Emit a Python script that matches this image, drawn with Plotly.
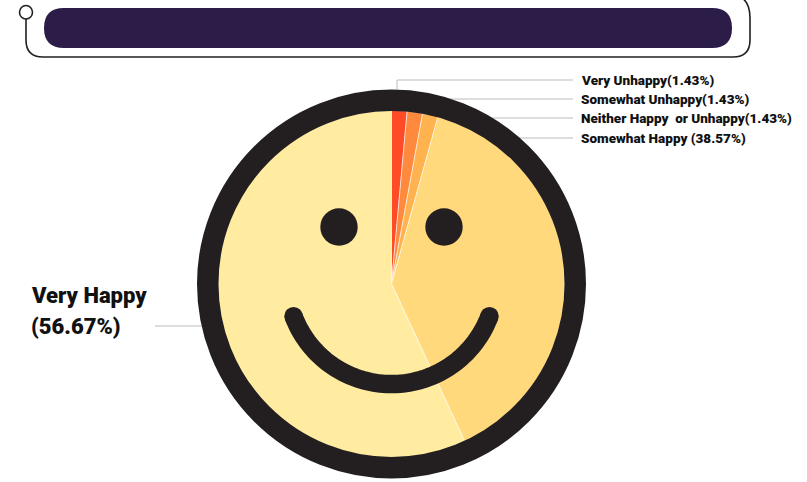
import numpy as np
import plotly.graph_objects as go

# ---- data ----
categories = ["Very Unhappy", "Somewhat Unhappy", "Neither Happy  or Unhappy", "Somewhat Happy", "Very Happy"]
percentages = [1.43, 1.43, 1.43, 38.57, 56.67]
label_texts = ["Very Unhappy(1.43%)", "Somewhat Unhappy(1.43%)",
               "Neither Happy  or Unhappy(1.43%)", "Somewhat Happy (38.57%)"]
big_label_lines = ["Very Happy", "(56.67%)"]
colors = ["#FF4B28", "#FF8A3D", "#FFB24E", "#FFD97B", "#FFECA0"]

W, H = 807, 482
def px(x):
    return x / W
def py(y):
    return 1 - y / H

CX, CY = 391.5, 284.0
R_IN = 173.5
R_OUT = 194.0
RING = "#231F20"
FONT = "Roboto, Liberation Sans Narrow, Arial Narrow, sans-serif"

fig = go.Figure()
fig.add_trace(go.Pie(
    labels=categories, values=percentages, sort=False, direction="clockwise",
    rotation=0, textinfo="none", hoverinfo="label+percent",
    marker=dict(colors=colors, line=dict(color="rgba(255,255,255,0.55)", width=1)),
    domain=dict(x=[px(CX - R_IN), px(CX + R_IN)], y=[py(CY + R_IN), py(CY - R_IN)]),
    showlegend=False,
))

shapes = []
LINEC = "#BDBDBD"
ys = [80, 99, 118, 138]
for i, yy in enumerate(ys):
    if i == 0:
        shapes.append(dict(type="path", xref="paper", yref="paper",
                           path=f"M {px(397)},{py(95)} L {px(397)},{py(yy)} L {px(573)},{py(yy)}",
                           line=dict(color=LINEC, width=1), layer="above"))
    else:
        dx = np.sqrt(max((R_OUT - 6) ** 2 - (CY - yy) ** 2, 0))
        x0 = CX + dx
        shapes.append(dict(type="line", xref="paper", yref="paper",
                           x0=px(x0), x1=px(573), y0=py(yy), y1=py(yy),
                           line=dict(color=LINEC, width=1), layer="above"))
shapes.append(dict(type="line", xref="paper", yref="paper",
                   x0=px(155), x1=px(205), y0=py(326), y1=py(326),
                   line=dict(color=LINEC, width=1), layer="above"))

# ring
RM = (R_IN + R_OUT) / 2
shapes.append(dict(type="circle", xref="paper", yref="paper",
                   x0=px(CX - RM), x1=px(CX + RM), y0=py(CY + RM), y1=py(CY - RM),
                   line=dict(color=RING, width=R_OUT - R_IN + 1), fillcolor="rgba(0,0,0,0)",
                   layer="above"))
# eyes
for ex in (339, 444):
    er = 18.7
    shapes.append(dict(type="circle", xref="paper", yref="paper",
                       x0=px(ex - er), x1=px(ex + er), y0=py(227 + er), y1=py(227 - er),
                       line=dict(width=0), fillcolor=RING, layer="above"))
# mouth
MCX, MCY, MR = 391.5, 279.5, 104.6
th = np.radians(np.linspace(20.5, 159.5, 80))
mx = MCX + MR * np.cos(th)
my = MCY + MR * np.sin(th)
path = "M " + " L ".join(f"{px(a):.5f},{py(b):.5f}" for a, b in zip(mx, my))
shapes.append(dict(type="path", xref="paper", yref="paper", path=path,
                   line=dict(color=RING, width=18.5), layer="above"))
for a, b in [(mx[0], my[0]), (mx[-1], my[-1])]:
    cr = 9.25
    shapes.append(dict(type="circle", xref="paper", yref="paper",
                       x0=px(a - cr), x1=px(a + cr), y0=py(b + cr), y1=py(b - cr),
                       line=dict(width=0), fillcolor=RING, layer="above"))

# header outline
hp = (f"M {px(26)},{py(19)} L {px(26)},{py(40)} Q {px(26)},{py(57)} {px(43)},{py(57)} "
      f"L {px(733)},{py(57)} Q {px(750)},{py(57)} {px(750)},{py(40)} "
      f"L {px(750)},{py(18)} Q {px(750)},{py(0)} {px(738)},{py(-4)}")
shapes.append(dict(type="path", xref="paper", yref="paper", path=hp,
                   line=dict(color=RING, width=1.6), layer="above"))
shapes.append(dict(type="circle", xref="paper", yref="paper",
                   x0=px(19.5), x1=px(32.5), y0=py(19), y1=py(5.5),
                   line=dict(color=RING, width=1.6), fillcolor="white", layer="above"))
# header bar (pill)
bx0, bx1, by0, by1 = 44, 732, 8, 48
rr = 20
bar = (f"M {px(bx0 + rr)},{py(by0)} L {px(bx1 - rr)},{py(by0)} "
       f"Q {px(bx1)},{py(by0)} {px(bx1)},{py(by0 + rr)} Q {px(bx1)},{py(by1)} {px(bx1 - rr)},{py(by1)} "
       f"L {px(bx0 + rr)},{py(by1)} Q {px(bx0)},{py(by1)} {px(bx0)},{py(by0 + rr)} "
       f"Q {px(bx0)},{py(by0)} {px(bx0 + rr)},{py(by0)} Z")
shapes.append(dict(type="path", xref="paper", yref="paper", path=bar,
                   line=dict(width=0), fillcolor="#2C1D48", layer="above"))

annotations = []
for t, yy in zip(label_texts, ys):
    annotations.append(dict(text=t, x=px(579), y=py(yy), xref="paper", yref="paper",
                            xanchor="left", yanchor="middle", showarrow=False,
                            font=dict(family=FONT, size=13.5, color="#111111", weight=900)))
for t, yy in zip(big_label_lines, [295, 326]):
    annotations.append(dict(text=t, x=px(29), y=py(yy), xref="paper", yref="paper",
                            xanchor="left", yanchor="middle", showarrow=False,
                            font=dict(family=FONT, size=22, color="#111111", weight=900)))

fig.update_layout(width=W, height=H, margin=dict(l=0, r=0, t=0, b=0),
                  paper_bgcolor="white", plot_bgcolor="white",
                  shapes=shapes, annotations=annotations, showlegend=False)
fig.write_html("out.html")
